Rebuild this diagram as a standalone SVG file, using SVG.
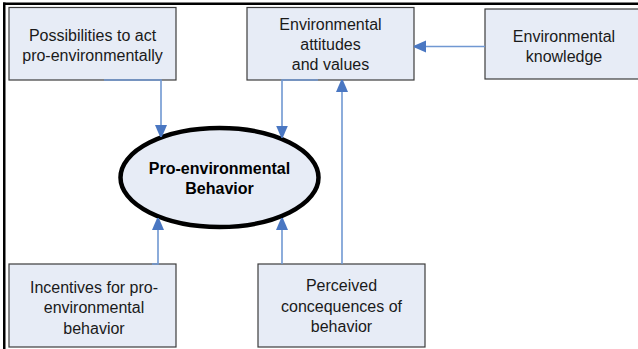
<svg xmlns="http://www.w3.org/2000/svg" width="638" height="349" viewBox="0 0 638 349">
<defs>
<style>
.box{fill:#e7ecf6;stroke:#3c3c3c;stroke-width:1.2}
.t{font-family:"Liberation Sans",Arial,sans-serif;font-size:16px;fill:#1a1a1a;text-anchor:middle}
.b{font-weight:bold;fill:#000}
.c{fill:none;stroke:#7098d2;stroke-width:1.6}
</style>
<marker id="ah" markerUnits="userSpaceOnUse" markerWidth="12" markerHeight="16" viewBox="0 0 12 16" refX="12" refY="6" orient="auto">
<path d="M0,0 L14,6 L0,12 z" fill="#4a77c2"/>
</marker>
</defs>
<rect x="3" y="2.5" width="635" height="2.5" fill="#000"/>
<rect x="3" y="2.5" width="2.5" height="346.5" fill="#000"/>
<g id="n-possibilities">
<rect class="box" x="9" y="7.5" width="167" height="72.5"/>
<text class="t" x="92.5" y="41">Possibilities to act</text>
<text class="t" x="92.5" y="61">pro-environmentally</text>
</g>
<g id="n-attitudes">
<rect class="box" x="247" y="7.5" width="167" height="72.5"/>
<text class="t" x="330.5" y="29.5">Environmental</text>
<text class="t" x="330.5" y="49.5">attitudes</text>
<text class="t" x="330.5" y="69.5">and values</text>
</g>
<g id="n-knowledge">
<rect class="box" x="485" y="9" width="160" height="70"/>
<text class="t" x="564" y="41.5">Environmental</text>
<text class="t" x="564" y="61.5">knowledge</text>
</g>
<g id="n-behavior">
<ellipse cx="219.5" cy="177.5" rx="99" ry="49.5" fill="#e7ecf6" stroke="#000" stroke-width="4.5"/>
<text class="t b" x="219.5" y="173.5">Pro-environmental</text>
<text class="t b" x="219.5" y="193.5">Behavior</text>
</g>
<g id="n-incentives">
<rect class="box" x="9" y="264" width="167" height="83"/>
<text class="t" x="94" y="292.5">Incentives for pro-</text>
<text class="t" x="94" y="313">environmental</text>
<text class="t" x="94" y="333.5">behavior</text>
</g>
<g id="n-consequences">
<rect class="box" x="258" y="264" width="167" height="83"/>
<text class="t" x="341.5" y="291">Perceived</text>
<text class="t" x="341.5" y="311.5">concequences of</text>
<text class="t" x="341.5" y="332">behavior</text>
</g>
<g id="connectors">
<path class="c" d="M104,80 H161 V137" marker-end="url(#ah)"/>
<path class="c" d="M318,80 H282 V137.5" marker-end="url(#ah)"/>
<path class="c" d="M342,264 V80" marker-end="url(#ah)"/>
<path class="c" d="M485,46.5 H414" marker-end="url(#ah)"/>
<path class="c" d="M152,264 H158 V218" marker-end="url(#ah)"/>
<path class="c" d="M282,264 V218" marker-end="url(#ah)"/>
</g>
</svg>
